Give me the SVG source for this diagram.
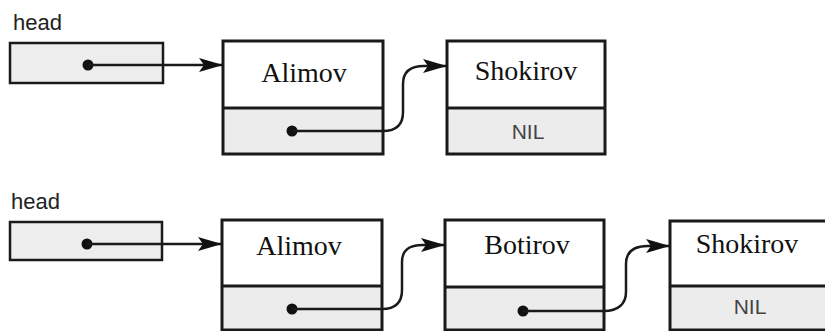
<svg xmlns="http://www.w3.org/2000/svg" width="825" height="331" viewBox="0 0 825 331">
<defs>
<style>
.box{fill:none;stroke:#1a1a1a;stroke-width:3}
.hbox{fill:#ededed;stroke:#1a1a1a;stroke-width:2.5}
.gray{fill:#ececec;stroke:none}
.white{fill:#ffffff;stroke:none}
.name{font-family:"Liberation Serif",serif;font-size:28px;fill:#111;text-anchor:middle}
.nil{font-family:"Liberation Sans",sans-serif;font-size:21px;fill:#444;text-anchor:middle}
.lbl{font-family:"Liberation Sans",sans-serif;font-size:22px;fill:#222}
.link{fill:none;stroke:#1a1a1a;stroke-width:2.5}
.dot{fill:#111}
</style>
<marker id="ah" viewBox="0 0 24 14" refX="24" refY="7" markerWidth="24" markerHeight="14" markerUnits="userSpaceOnUse" orient="auto">
<path d="M0,0 L24,7 L0,14 L5,7 z" fill="#111"/>
</marker>
</defs>
<rect width="825" height="331" fill="#ffffff"/>

<!-- Top list -->
<g id="head1">
<text class="lbl" x="13" y="30">head</text>
<rect class="hbox" x="10" y="43" width="153" height="40"/>
<circle class="dot" cx="88" cy="65" r="5.5"/>
</g>
<g id="alimov1">
<rect class="gray" x="223" y="108" width="160" height="46"/>
<rect class="box" x="223" y="41" width="160" height="113"/>
<line class="box" x1="223" y1="108" x2="383" y2="108"/>
<text class="name" x="304" y="82">Alimov</text>
<circle class="dot" cx="292" cy="131" r="5.5"/>
</g>
<g id="shokirov1">
<rect class="gray" x="447" y="108" width="158" height="46"/>
<rect class="box" x="447" y="41" width="158" height="113"/>
<line class="box" x1="447" y1="108" x2="605" y2="108"/>
<text class="name" x="526" y="80">Shokirov</text>
<text class="nil" x="528" y="139">NIL</text>
</g>

<!-- Bottom list -->
<g id="head2">
<text class="lbl" x="11" y="209">head</text>
<rect class="hbox" x="10" y="222" width="152" height="38"/>
<circle class="dot" cx="87" cy="244" r="5.5"/>
</g>
<g id="alimov2">
<rect class="gray" x="222" y="286" width="160" height="44"/>
<rect class="box" x="222" y="220" width="160" height="110"/>
<line class="box" x1="222" y1="286" x2="382" y2="286"/>
<text class="name" x="299" y="255">Alimov</text>
<circle class="dot" cx="292" cy="309" r="5.5"/>
</g>
<g id="botirov2">
<rect class="gray" x="445" y="287" width="159" height="43"/>
<rect class="box" x="445" y="220" width="159" height="110"/>
<line class="box" x1="445" y1="287" x2="604" y2="287"/>
<text class="name" x="527" y="254">Botirov</text>
<circle class="dot" cx="523" cy="311" r="5.5"/>
</g>
<g id="shokirov2">
<rect class="gray" x="670" y="286" width="160" height="44"/>
<rect class="box" x="670" y="221" width="160" height="109"/>
<line class="box" x1="670" y1="286" x2="830" y2="286"/>
<text class="name" x="747" y="253">Shokirov</text>
<text class="nil" x="750" y="314">NIL</text>
</g>

<g id="connectors">
<line class="link" x1="88" y1="65" x2="223" y2="65" marker-end="url(#ah)"/>
<path class="link" d="M292,131 L383,131 C397,131 403,124 403,112 L403,84 C403,72 410,66 424,66 L447,66" marker-end="url(#ah)"/>
<line class="link" x1="87" y1="244" x2="222" y2="244" marker-end="url(#ah)"/>
<path class="link" d="M292,309 L382,309 C396,309 402,302 402,290 L402,262 C402,250 409,245 423,245 L445,245" marker-end="url(#ah)"/>
<path class="link" d="M523,311 L604,311 C618,311 626,304 626,292 L626,264 C626,252 633,246 648,246 L670,246" marker-end="url(#ah)"/>
</g>
</svg>
